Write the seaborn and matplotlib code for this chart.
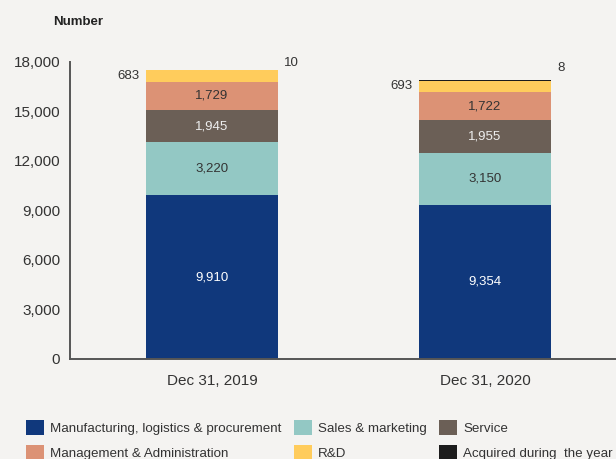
import numpy as np
import pandas as pd
import matplotlib.pyplot as plt
import seaborn as sns
from matplotlib.patches import Patch
from matplotlib.ticker import StrMethodFormatter

# Datos
dates = ["Dec 31, 2019", "Dec 31, 2020"]
manufacturing = [9910, 9354]
sales = [3220, 3150]
service = [1945, 1955]
management = [1729, 1722]
rnd = [683, 693]
acquired = [10, 8]

series_names = [
    "Manufacturing, logistics & procurement",
    "Sales & marketing",
    "Service",
    "Management & Administration",
    "R&D",
    "Acquired during  the year",
]
series_values = [manufacturing, sales, service, management, rnd, acquired]
colors = ["#10387c", "#93c8c4", "#6b5f56", "#dc9275", "#ffcc5c", "#1c1c1c"]
label_colors = ["white", "#333333", "#eeeeee", "#333333"]

bg = "#f4f3f1"
sns.set_style("white")
plt.rcParams["font.family"] = ["Liberation Sans", "DejaVu Sans"]

df = pd.DataFrame({"date": dates})
cum = np.cumsum(np.array(series_values), axis=0)
for i, name in enumerate(series_names):
    df[name] = cum[i]

fig = plt.figure(figsize=(6.16, 4.59), dpi=100, facecolor=bg)
ax = fig.add_axes([70 / 616, 1 - 359 / 459, 1 - 70 / 616, (359 - 62) / 459])
ax.set_facecolor(bg)

# Barras apiladas: dibujar acumulados de arriba hacia abajo
for i in range(len(series_names) - 1, -1, -1):
    sns.barplot(
        data=df,
        x="date",
        y=series_names[i],
        order=dates,
        color=colors[i],
        width=0.4835,
        saturation=1,
        edgecolor="none",
        linewidth=0,
        ax=ax,
    )

# Etiquetas dentro de los segmentos
for j in range(len(dates)):
    bottom = 0
    for i in range(4):
        v = series_values[i][j]
        ax.text(j, bottom + v / 2, f"{v:,}", ha="center", va="center",
                fontsize=9.5, color=label_colors[i])
        bottom += v
    # R&D a la izquierda
    v = rnd[j]
    ax.text(j - 0.4835 / 2 - 0.025, bottom + v / 2, f"{v:,}", ha="right",
            va="center", fontsize=9.5, color="#333333")
    total = cum[-1][j]
    ax.text(j + 0.4835 / 2 + 0.022, total + 450 + 300 * j, f"{acquired[j]}",
            ha="left", va="center", fontsize=9.5, color="#333333")

ax.set_xlim(-0.52, 1.48)
ax.set_ylim(0, 18000)
ax.set_yticks(range(0, 18001, 3000))
ax.yaxis.set_major_formatter(StrMethodFormatter("{x:,.0f}"))
ax.set_xlabel("")
ax.set_ylabel("")
ax.tick_params(axis="y", length=0, pad=7, labelsize=11, colors="#333333")
ax.tick_params(axis="x", length=0, pad=11, labelsize=11, colors="#333333")
for s in ["top", "right"]:
    ax.spines[s].set_visible(False)
for s in ["left", "bottom"]:
    ax.spines[s].set_color("#555555")
    ax.spines[s].set_linewidth(1.4)

fig.text(53 / 616, 1 - 22 / 459, "Number", fontsize=9.5, fontweight="bold",
         color="#222222", ha="left", va="center")

# Leyenda (orden por columnas)
order = [0, 3, 1, 4, 2, 5]
handles = [Patch(facecolor=colors[k], edgecolor="none") for k in order]
labels = [series_names[k] for k in order]
fig.legend(handles, labels, ncol=3, loc="upper left",
           bbox_to_anchor=(26 / 616, 1 - 420 / 459), frameon=False,
           fontsize=9.6, handlelength=1.35, handleheight=1.35,
           handletextpad=0.45, labelspacing=0.75, columnspacing=0.95,
           borderaxespad=0, borderpad=0, labelcolor="#333333")

fig.savefig("out.png", dpi=100, facecolor=bg)
